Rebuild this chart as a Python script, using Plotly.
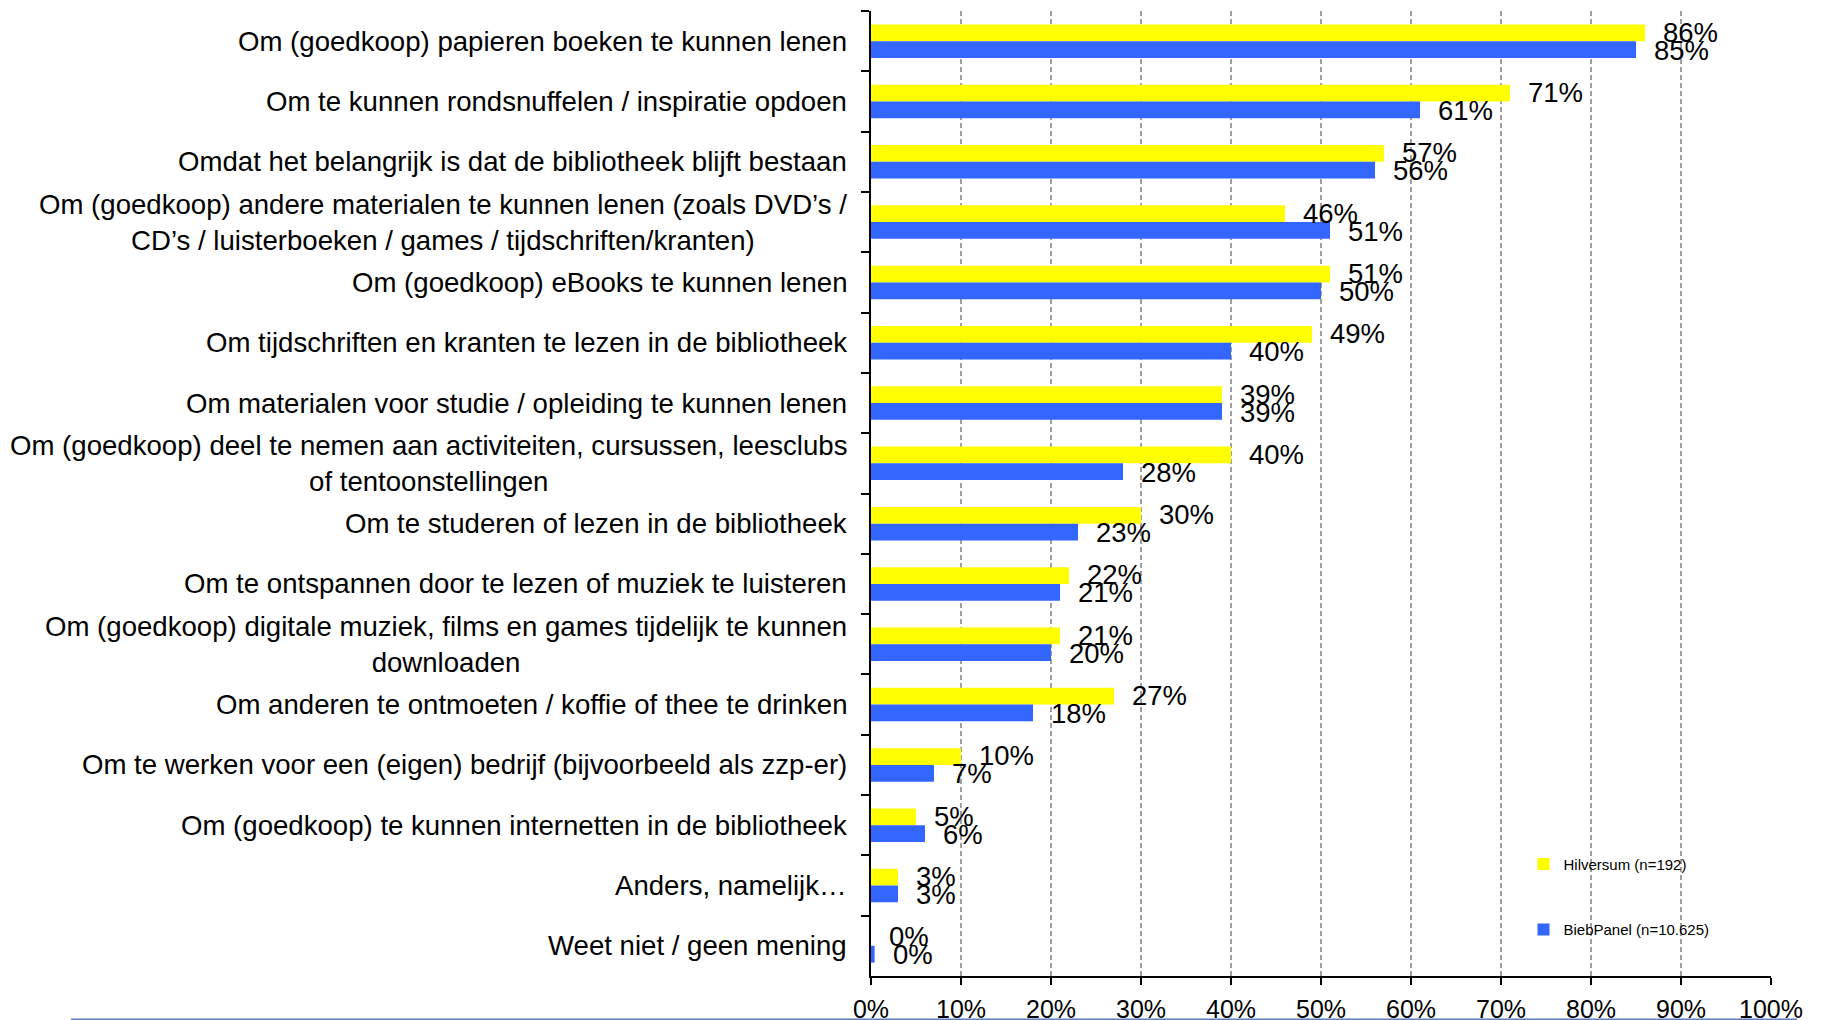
import plotly.graph_objects as go

categories = [
    "Om (goedkoop) papieren boeken te kunnen lenen",
    "Om te kunnen rondsnuffelen / inspiratie opdoen",
    "Omdat het belangrijk is dat de bibliotheek blijft bestaan",
    "Om (goedkoop) andere materialen te kunnen lenen (zoals DVD’s /<br>CD’s / luisterboeken / games / tijdschriften/kranten)",
    "Om (goedkoop) eBooks te kunnen lenen",
    "Om tijdschriften en kranten te lezen in de bibliotheek",
    "Om materialen voor studie / opleiding te kunnen lenen",
    "Om (goedkoop) deel te nemen aan activiteiten, cursussen, leesclubs<br>of tentoonstellingen",
    "Om te studeren of lezen in de bibliotheek",
    "Om te ontspannen door te lezen of muziek te luisteren",
    "Om (goedkoop) digitale muziek, films en games tijdelijk te kunnen<br>downloaden",
    "Om anderen te ontmoeten / koffie of thee te drinken",
    "Om te werken voor een (eigen) bedrijf (bijvoorbeeld als zzp-er)",
    "Om (goedkoop) te kunnen internetten in de bibliotheek",
    "Anders, namelijk…",
    "Weet niet / geen mening",
]
hilversum = [86, 71, 57, 46, 51, 49, 39, 40, 30, 22, 21, 27, 10, 5, 3, 0]
biebpanel = [85, 61, 56, 51, 50, 40, 39, 28, 23, 21, 20, 18, 7, 6, 3, 0.4]
series_names = ["Hilversum (n=192)", "BiebPanel (n=10.625)"]
tick_vals = [0, 10, 20, 30, 40, 50, 60, 70, 80, 90, 100]
tick_text = [f"{v}%" for v in tick_vals]

FONT = "Liberation Sans, Arial, sans-serif"

fig = go.Figure()
fig.add_trace(go.Bar(name=series_names[0], y=categories, x=hilversum, orientation="h",
                     marker_color="#FFFF00", marker_line_width=0, legendgroup="a"))
fig.add_trace(go.Bar(name=series_names[1], y=categories, x=biebpanel, orientation="h",
                     marker_color="#3366FF", marker_line_width=0, legendgroup="b"))

annotations = []
for cat in categories:
    annotations.append(dict(x=0, xref="paper", y=cat, yref="y", text=cat, showarrow=False,
                            xanchor="right", align="center", xshift=-22,
                            font=dict(family=FONT, size=27.6, color="black")))
for vals, shift in ((hilversum, 9), (biebpanel, -9)):
    for cat, v in zip(categories, vals):
        annotations.append(dict(x=v, y=cat, text=f"{round(v)}%", showarrow=False,
                                xanchor="left", xshift=16, yshift=shift,
                                font=dict(family=FONT, size=27.5, color="black")))

# narrower than the window so the page's body margin doesn't cause a scrollbar
fig.update_layout(
    width=1820, height=1018,
    margin=dict(l=863, r=57, t=3, b=46),
    plot_bgcolor="white", paper_bgcolor="white",
    barmode="group", bargap=0.445, bargroupgap=0,
    font=dict(family=FONT, color="black"),
    annotations=annotations,
    legend=dict(x=0.725, y=0.133, xanchor="left", yanchor="top", tracegroupgap=43,
                font=dict(size=15, family=FONT), bgcolor="rgba(0,0,0,0)"),
    shapes=[dict(type="line", xref="paper", yref="paper", x0=-0.889, x1=1.029,
                 y0=-0.0454, y1=-0.0454, line=dict(color="#5B7FBF", width=2.5))],
)
fig.update_xaxes(range=[0, 100], tickvals=tick_vals, ticktext=tick_text,
                 showgrid=True, gridcolor="#A0A0A0", gridwidth=1.5, griddash="5px,3px",
                 showline=True, linecolor="black", linewidth=2,
                 ticks="outside", ticklen=7, tickcolor="black", tickwidth=2,
                 tickfont=dict(size=25, family=FONT), ticklabelstandoff=3,
                 zeroline=False, fixedrange=True)
fig.update_yaxes(autorange="reversed", showticklabels=False, tickson="boundaries",
                 ticks="outside", ticklen=8, tickcolor="black", tickwidth=2,
                 showline=True, linecolor="black", linewidth=2, showgrid=False)

fig.write_html("out.html")
